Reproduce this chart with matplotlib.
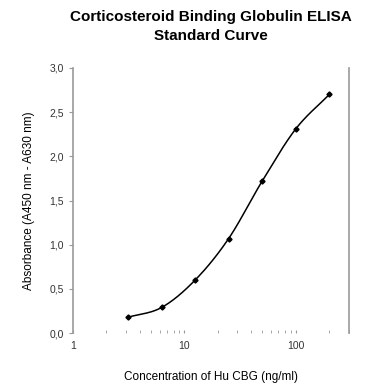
import numpy as np
import matplotlib.pyplot as plt
from matplotlib.ticker import FuncFormatter, LogLocator, NullFormatter
from matplotlib import font_manager

# datos de la curva estandar
conc = [3.125, 6.25, 12.5, 25, 50, 100, 200]
absorb = [0.18, 0.29, 0.60, 1.07, 1.72, 2.31, 2.70]

fams = [f.name for f in font_manager.fontManager.ttflist]
fuente = 'Liberation Sans Narrow' if 'Liberation Sans Narrow' in fams else 'Liberation Sans'
plt.rcParams['font.family'] = [fuente, 'DejaVu Sans']

# linea suavizada (tipo Excel, Catmull-Rom en escala log)
lx = np.log10(conc)
ly = np.array(absorb)
px = np.concatenate([[2*lx[0]-lx[1]], lx, [2*lx[-1]-lx[-2]]])
py = np.concatenate([[2*ly[0]-ly[1]], ly, [2*ly[-1]-ly[-2]]])
sx, sy = [], []
t = np.linspace(0, 1, 30)
for i in range(1, len(px)-2):
    p0, p1, p2, p3 = px[i-1], px[i], px[i+1], px[i+2]
    q0, q1, q2, q3 = py[i-1], py[i], py[i+1], py[i+2]
    sx.extend(0.5*((2*p1) + (-p0+p2)*t + (2*p0-5*p1+4*p2-p3)*t**2 + (-p0+3*p1-3*p2+p3)*t**3))
    sy.extend(0.5*((2*q1) + (-q0+q2)*t + (2*q0-5*q1+4*q2-q3)*t**2 + (-q0+3*q1-3*q2+q3)*t**3))

fig = plt.figure(figsize=(3.7, 3.86), dpi=100)
ax = fig.add_axes([0.197, 0.137, 0.746, 0.687])
ax.plot(10**np.array(sx), sy, color='black', linewidth=1.1)
ax.plot(conc, absorb, 'D', color='black', markersize=2.6)

ax.set_xscale('log')
ax.set_xlim(1, 300)
ax.set_ylim(0, 3.0)
ax.set_yticks([0, 0.5, 1.0, 1.5, 2.0, 2.5, 3.0])
ax.yaxis.set_major_formatter(FuncFormatter(lambda v, p: ('%.1f' % v).replace('.', ',')))
ax.xaxis.set_major_formatter(FuncFormatter(lambda v, p: '%d' % v))
ax.xaxis.set_minor_locator(LogLocator(base=10, subs=np.arange(2, 10)))
ax.xaxis.set_minor_formatter(NullFormatter())

for s in ['top', 'bottom']:
    ax.spines[s].set_visible(False)
for s in ['left', 'right']:
    ax.spines[s].set_color('#999999')
    ax.spines[s].set_linewidth(1.2)
ax.tick_params(axis='y', length=3, colors='#999999', labelcolor='#333333', labelsize=7.5)
ax.tick_params(axis='x', which='both', length=2, direction='in', color='#999999', labelsize=7.5, labelcolor='#333333', pad=6)

ax.set_title('Corticosteroid Binding Globulin ELISA\nStandard Curve', fontsize=11, fontweight='bold',
             pad=20, family='Liberation Sans', linespacing=1.45)
ax.set_xlabel('Concentration of Hu CBG (ng/ml)', fontsize=8.5, labelpad=14)
ax.set_ylabel('Absorbance (A450 nm - A630 nm)', fontsize=8.5, labelpad=10)

plt.savefig('out.png', dpi=100)
